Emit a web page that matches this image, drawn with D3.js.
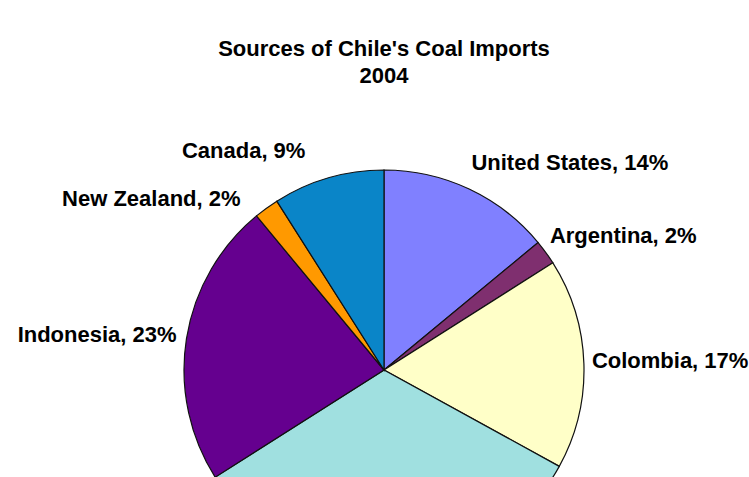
<!DOCTYPE html>
<html>
<head>
<meta charset="utf-8">
<script src="https://cdn.jsdelivr.net/npm/d3@7"></script>
<style>
  body { margin: 0; background: #fff; }
  svg { display: block; }
  text { font-family: "Liberation Sans", Arial, sans-serif; font-weight: bold; fill: #000; }
</style>
</head>
<body>
<div id="chart"></div>
<script>
// slice order clockwise from 12 o'clock
const countries = ["United States", "Argentina", "Colombia", "Australia", "Indonesia", "New Zealand", "Canada"];
const shares = [14, 2, 17, 33, 23, 2, 9];
const sliceColors = ["#8080ff", "#7f2f6f", "#ffffc8", "#a0e0e0", "#65008f", "#ff9900", "#0a85c8"];

const titleLines = ["Sources of Chile's Coal Imports", "2004"];

const width = 749, height = 477;
const cx = 384, cy = 370, radius = 200, labelRadius = 210;

// small hand nudges so labels sit where the original put them
const labelNudge = {
    "United States": [-2, -18],
    "Argentina": [-4, -11],
    "Colombia": [-2, -3],
    "Australia": [0, 0],
    "Indonesia": [0, -3],
    "New Zealand": [-20, -2],
    "Canada": [-20, -18]
};

const svg = d3.select("#chart").append("svg")
    .attr("width", width)
    .attr("height", height);

svg.selectAll("text.title")
    .data(titleLines)
    .enter().append("text")
    .attr("class", "title")
    .attr("x", cx)
    .attr("y", (d, i) => 56 + i * 27)
    .attr("text-anchor", "middle")
    .style("font-size", "22px")
    .text(d => d);

const data = countries.map((c, i) => ({ name: c, value: shares[i], color: sliceColors[i] }));

const pie = d3.pie().sort(null).value(d => d.value);
const arcs = pie(data);

const arc = d3.arc().innerRadius(0).outerRadius(radius);
const labelArc = d3.arc().innerRadius(labelRadius).outerRadius(labelRadius);

const g = svg.append("g").attr("transform", "translate(" + cx + "," + cy + ")");

g.selectAll("path")
    .data(arcs)
    .enter().append("path")
    .attr("d", arc)
    .attr("fill", d => d.data.color)
    .attr("stroke", "#111")
    .attr("stroke-width", 1.2);

// the bottom label falls below the visible area, like in the original
const visibleArcs = arcs.filter(d => cy + labelArc.centroid(d)[1] < height - 10);

g.selectAll("text.lbl")
    .data(visibleArcs)
    .enter().append("text")
    .attr("class", "lbl")
    .attr("transform", d => {
        const p = labelArc.centroid(d);
        const n = labelNudge[d.data.name];
        return "translate(" + (p[0] + n[0]) + "," + (p[1] + n[1]) + ")";
    })
    .attr("dy", "0.35em")
    .attr("text-anchor", d => (d.startAngle + d.endAngle) / 2 < Math.PI ? "start" : "end")
    .style("font-size", "22px")
    .text(d => d.data.name + ", " + d.data.value + "%");
</script>
</body>
</html>
